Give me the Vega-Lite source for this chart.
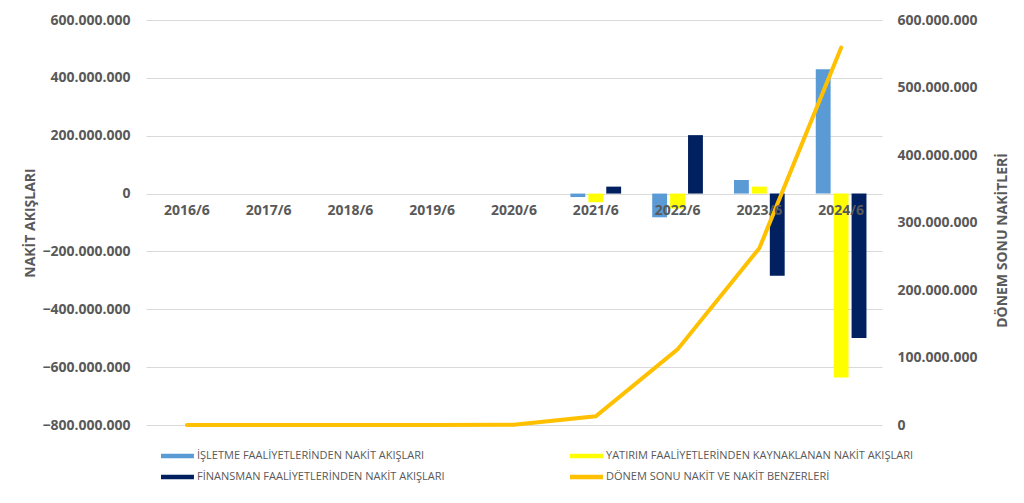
{
  "$schema": "https://vega.github.io/schema/vega-lite/v6.json",
  "autosize": {"type": "none"},
  "padding": {"left": 146, "top": 20, "right": 142, "bottom": 78},
  "width": 736,
  "height": 405,
  "background": "white",
  "datasets": {
    "akis": [
      {"donem": "2016/6", "kalem": "İŞLETME FAALİYETLERİNDEN NAKİT AKIŞLARI", "deger": 0},
      {"donem": "2016/6", "kalem": "YATIRIM FAALİYETLERİNDEN KAYNAKLANAN NAKİT AKIŞLARI", "deger": 0},
      {"donem": "2016/6", "kalem": "FİNANSMAN FAALİYETLERİNDEN NAKİT AKIŞLARI", "deger": 0},
      {"donem": "2017/6", "kalem": "İŞLETME FAALİYETLERİNDEN NAKİT AKIŞLARI", "deger": 0},
      {"donem": "2017/6", "kalem": "YATIRIM FAALİYETLERİNDEN KAYNAKLANAN NAKİT AKIŞLARI", "deger": 0},
      {"donem": "2017/6", "kalem": "FİNANSMAN FAALİYETLERİNDEN NAKİT AKIŞLARI", "deger": 0},
      {"donem": "2018/6", "kalem": "İŞLETME FAALİYETLERİNDEN NAKİT AKIŞLARI", "deger": 0},
      {"donem": "2018/6", "kalem": "YATIRIM FAALİYETLERİNDEN KAYNAKLANAN NAKİT AKIŞLARI", "deger": 0},
      {"donem": "2018/6", "kalem": "FİNANSMAN FAALİYETLERİNDEN NAKİT AKIŞLARI", "deger": 0},
      {"donem": "2019/6", "kalem": "İŞLETME FAALİYETLERİNDEN NAKİT AKIŞLARI", "deger": 0},
      {"donem": "2019/6", "kalem": "YATIRIM FAALİYETLERİNDEN KAYNAKLANAN NAKİT AKIŞLARI", "deger": 0},
      {"donem": "2019/6", "kalem": "FİNANSMAN FAALİYETLERİNDEN NAKİT AKIŞLARI", "deger": 0},
      {"donem": "2020/6", "kalem": "İŞLETME FAALİYETLERİNDEN NAKİT AKIŞLARI", "deger": 0},
      {"donem": "2020/6", "kalem": "YATIRIM FAALİYETLERİNDEN KAYNAKLANAN NAKİT AKIŞLARI", "deger": 0},
      {"donem": "2020/6", "kalem": "FİNANSMAN FAALİYETLERİNDEN NAKİT AKIŞLARI", "deger": 0},
      {"donem": "2021/6", "kalem": "İŞLETME FAALİYETLERİNDEN NAKİT AKIŞLARI", "deger": -12000000},
      {"donem": "2021/6", "kalem": "YATIRIM FAALİYETLERİNDEN KAYNAKLANAN NAKİT AKIŞLARI", "deger": -30000000},
      {"donem": "2021/6", "kalem": "FİNANSMAN FAALİYETLERİNDEN NAKİT AKIŞLARI", "deger": 24000000},
      {"donem": "2022/6", "kalem": "İŞLETME FAALİYETLERİNDEN NAKİT AKIŞLARI", "deger": -82000000},
      {"donem": "2022/6", "kalem": "YATIRIM FAALİYETLERİNDEN KAYNAKLANAN NAKİT AKIŞLARI", "deger": -52000000},
      {"donem": "2022/6", "kalem": "FİNANSMAN FAALİYETLERİNDEN NAKİT AKIŞLARI", "deger": 202000000},
      {"donem": "2023/6", "kalem": "İŞLETME FAALİYETLERİNDEN NAKİT AKIŞLARI", "deger": 47000000},
      {"donem": "2023/6", "kalem": "YATIRIM FAALİYETLERİNDEN KAYNAKLANAN NAKİT AKIŞLARI", "deger": 24000000},
      {"donem": "2023/6", "kalem": "FİNANSMAN FAALİYETLERİNDEN NAKİT AKIŞLARI", "deger": -284000000},
      {"donem": "2024/6", "kalem": "İŞLETME FAALİYETLERİNDEN NAKİT AKIŞLARI", "deger": 430000000},
      {"donem": "2024/6", "kalem": "YATIRIM FAALİYETLERİNDEN KAYNAKLANAN NAKİT AKIŞLARI", "deger": -636000000},
      {"donem": "2024/6", "kalem": "FİNANSMAN FAALİYETLERİNDEN NAKİT AKIŞLARI", "deger": -499000000}
    ],
    "nakit": [
      {"donem": "2016/6", "donemSonu": 0},
      {"donem": "2017/6", "donemSonu": 0},
      {"donem": "2018/6", "donemSonu": 0},
      {"donem": "2019/6", "donemSonu": 0},
      {"donem": "2020/6", "donemSonu": 500000},
      {"donem": "2021/6", "donemSonu": 13000000},
      {"donem": "2022/6", "donemSonu": 112000000},
      {"donem": "2023/6", "donemSonu": 262000000},
      {"donem": "2024/6", "donemSonu": 559000000}
    ]
  },
  "encoding": {
    "x": {
      "field": "donem",
      "type": "nominal",
      "title": null,
      "scale": {"paddingInner": 0.38, "paddingOuter": 0.19},
      "axis": {"offset": -232, "labelPadding": 10, "labelAngle": 0, "ticks": false, "domain": false, "grid": false, "zindex": 1}
    }
  },
  "layer": [
    {
      "data": {"name": "akis"},
      "mark": {"type": "bar"},
      "encoding": {
        "xOffset": {
          "field": "kalem",
          "type": "nominal",
          "sort": null,
          "scale": {"paddingInner": 0.17, "paddingOuter": 0}
        },
        "y": {
          "field": "deger",
          "type": "quantitative",
          "title": "NAKİT AKIŞLARI",
          "scale": {"domain": [-800000000, 600000000], "nice": false},
          "axis": {"values": [-800000000, -600000000, -400000000, -200000000, 0, 200000000, 400000000, 600000000], "format": ",d", "titlePadding": 4, "labelPadding": 16, "grid": true}
        },
        "color": {
          "field": "kalem",
          "type": "nominal",
          "title": null,
          "scale": {
            "domain": [
              "İŞLETME FAALİYETLERİNDEN NAKİT AKIŞLARI",
              "FİNANSMAN FAALİYETLERİNDEN NAKİT AKIŞLARI",
              "YATIRIM FAALİYETLERİNDEN KAYNAKLANAN NAKİT AKIŞLARI",
              "DÖNEM SONU NAKİT VE NAKİT BENZERLERİ"
            ],
            "range": ["#5B9BD5", "#002060", "#FFFF00", "#FFC000"]
          },
          "legend": {
            "orient": "none",
            "legendX": 15,
            "legendY": 428,
            "columns": 2,
            "columnPadding": 125,
            "rowPadding": 8,
            "symbolType": "M-1,-0.28H3.12V0.28H-1Z",
            "symbolSize": 256,
            "symbolStrokeWidth": 0,
            "labelOffset": 20,
            "labelFont": "Open Sans",
            "labelFontSize": 11,
            "labelColor": "#595959",
            "labelLimit": 400
          }
        }
      }
    },
    {
      "data": {"name": "nakit"},
      "mark": {"type": "line", "color": "#FFC000", "strokeWidth": 4, "strokeCap": "round"},
      "encoding": {
        "y": {
          "field": "donemSonu",
          "type": "quantitative",
          "title": "DÖNEM SONU NAKİTLERİ",
          "scale": {"domain": [0, 600000000], "nice": false},
          "axis": {"orient": "right", "values": [0, 100000000, 200000000, 300000000, 400000000, 500000000, 600000000], "format": ",d", "grid": false, "labelPadding": 15, "titlePadding": 32, "titleAngle": -90, "titleY": 220}
        }
      }
    }
  ],
  "resolve": {"scale": {"y": "independent"}, "axis": {"y": "independent"}},
  "config": {
    "locale": {"number": {"decimal": ",", "thousands": ".", "grouping": [3], "currency": ["", " TL"]}},
    "view": {"stroke": null},
    "axis": {
      "labelFont": "Open Sans",
      "labelFontSize": 14,
      "labelFontWeight": "bold",
      "labelColor": "#595959",
      "titleFont": "Open Sans",
      "titleFontSize": 14,
      "titleFontWeight": "bold",
      "titleColor": "#595959",
      "ticks": false,
      "domain": false,
      "gridColor": "#D9D9D9",
      "gridWidth": 1
    }
  }
}
